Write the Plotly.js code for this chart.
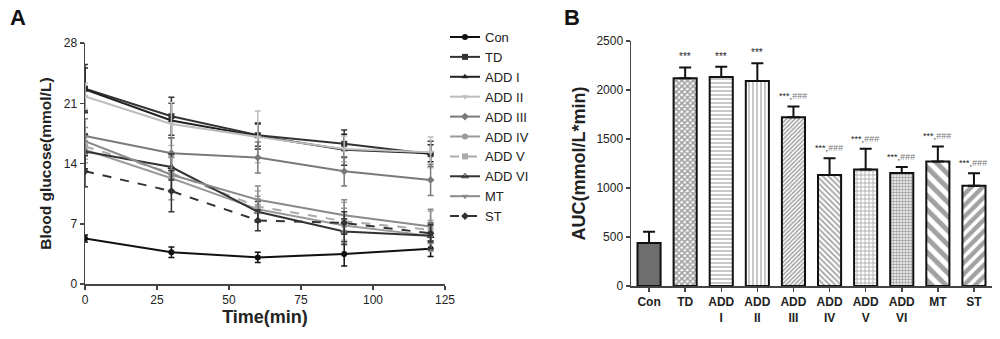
<!DOCTYPE html>
<html><head><meta charset="utf-8">
<script src="https://cdn.plot.ly/plotly-3.0.1.min.js"></script>
<style>html,body{margin:0;padding:0;background:#fff}#c{width:1000px;height:339px}</style>
</head><body><div id="c"></div>
<script>
// Panel A data
const times = [0, 30, 60, 90, 120];
const groups = ["Con","TD","ADD I","ADD II","ADD III","ADD IV","ADD V","ADD VI","MT","ST"];
const conY   = [5.3, 3.7, 3.1, 3.5, 4.1];
const tdY    = [22.7, 19.5, 17.3, 16.3, 15.1];
const add1Y  = [22.6, 19.0, 17.2, 15.6, 15.2];
const add2Y  = [21.8, 18.6, 17.1, 15.7, 15.3];
const add3Y  = [17.2, 15.2, 14.7, 13.1, 12.1];
const add4Y  = [15.6, 12.3, 8.7, 6.8, 5.6];
const add5Y  = [16.0, 12.9, 9.0, 7.3, 6.3];
const add6Y  = [15.4, 13.6, 8.4, 6.1, 5.6];
const mtY    = [16.6, 12.7, 9.8, 8.0, 6.7];
const stY    = [13.1, 10.8, 7.4, 7.1, 5.9];
const conE   = [0.4, 0.6, 0.6, 1.4, 0.9];
const tdE    = [2.8, 2.2, 1.3, 1.6, 1.5];
const add1E  = [2.5, 2.0, 1.5, 1.8, 1.0];
const add2E  = [1.5, 2.5, 3.0, 1.5, 1.8];
const add3E  = [2.0, 1.8, 1.8, 1.7, 1.8];
const add4E  = [1.5, 2.5, 1.5, 2.0, 1.8];
const add5E  = [1.5, 2.0, 1.8, 2.2, 2.2];
const add6E  = [2.0, 1.5, 1.2, 1.5, 1.5];
const mtE    = [1.6, 2.0, 1.6, 1.8, 2.0];
const stE    = [1.8, 2.4, 1.2, 1.3, 1.0];

// Panel B data
const barLabels = ["Con","TD","ADD<br>I","ADD<br>II","ADD<br>III","ADD<br>IV","ADD<br>V","ADD<br>VI","MT","ST"];
const aucVals = [440, 2120, 2134, 2092, 1722, 1134, 1190, 1155, 1272, 1023];
const aucErr  = [115, 110, 103, 180, 111, 170, 210, 59, 153, 128];
const sigText = ["", "***", "***", "***", "***,###", "***,###", "***,###", "***,###", "***,###", "***,###"];

const seriesY = [conY, tdY, add1Y, add2Y, add3Y, add4Y, add5Y, add6Y, mtY, stY];
const seriesE = [conE, tdE, add1E, add2E, add3E, add4E, add5E, add6E, mtE, stE];
const colors  = ["#111","#333","#222","#bdbdbd","#7a7a7a","#9a9a9a","#aaaaaa","#333","#8a8a8a","#333"];
const symbols = ["circle","square","triangle-up","triangle-down","diamond","circle","square","triangle-up-open","triangle-down","diamond"];
const dashes  = ["solid","solid","solid","solid","solid","solid","dash","solid","solid","dash"];

const traces = groups.map((g, i) => ({
  type: "scatter", mode: "lines+markers", name: g, x: times, y: seriesY[i],
  xaxis: "x", yaxis: "y",
  line: {color: colors[i], width: 2, dash: dashes[i]},
  marker: {color: colors[i], symbol: symbols[i], size: 6},
  error_y: {type: "data", array: seriesE[i], visible: true, color: colors[i], thickness: 1.5, width: 3}
}));

traces.push({
  type: "bar", x: barLabels, y: aucVals, xaxis: "x2", yaxis: "y2", showlegend: false,
  marker: {
    color: ["#6e6e6e","#fff","#fff","#fff","#fff","#fff","#fff","#fff","#fff","#fff"],
    line: {color: "#111", width: 2},
    pattern: {
      shape: ["", "x", "-", "|", "/", "\\", "+", ".", "\\", "/"],
      fgcolor: ["#444","#111","#333","#333","#444","#444","#333","#444","#000","#000"],
      bgcolor: ["#6e6e6e","#fff","#fff","#fff","#fff","#fff","#fff","#fff","#fff","#fff"],
      size: [4, 4, 4, 4, 3, 4, 4, 3, 10, 8],
      solidity: [0.2, 0.65, 0.3, 0.3, 0.5, 0.45, 0.35, 0.6, 0.5, 0.55],
      fillmode: "overlay"
    }
  },
  error_y: {type: "data", symmetric: false, array: aucErr, arrayminus: aucVals.map(() => 0), color: "#111", thickness: 2, width: 6}
});

const annotations = [
  {text: "<b>A</b>", x: 0.008, y: 0.99, xref: "paper", yref: "paper", xanchor: "left", yanchor: "top", showarrow: false, font: {size: 22, color: "#111"}},
  {text: "<b>B</b>", x: 0.562, y: 0.99, xref: "paper", yref: "paper", xanchor: "left", yanchor: "top", showarrow: false, font: {size: 22, color: "#111"}}
];
aucVals.forEach((v, i) => {
  if (!sigText[i]) return;
  const parts = sigText[i].split(",");
  const txt = parts.length > 1 ? parts[0] + ',<span style="color:#777"><i>' + parts[1] + '</i></span>' : parts[0];
  annotations.push({text: txt, x: barLabels[i], y: v + aucErr[i], xref: "x2", yref: "y2", yanchor: "bottom", yshift: 3,
    showarrow: false, font: {size: parts.length > 1 ? 9 : 10, color: "#222", family: "Arial"}});
});

const axFont = {family: "Arial", size: 12, color: "#222"};
const layout = {
  width: 1000, height: 339, margin: {l: 0, r: 0, t: 0, b: 0},
  paper_bgcolor: "#fff", plot_bgcolor: "#fff", font: {family: "Arial", color: "#222"},
  showlegend: true,
  legend: {x: 0.445, y: 0.935, xanchor: "left", yanchor: "top", font: {size: 13, family: "Arial", color: "#222"}, tracegroupgap: 0, bgcolor: "rgba(0,0,0,0)"},
  xaxis: {domain: [0.085, 0.445], range: [0, 125], tickvals: [0,25,50,75,100,125], ticks: "outside", ticklen: 4, tickwidth: 1.5,
    showline: true, linecolor: "#444", linewidth: 1.5, showgrid: false, zeroline: false, tickfont: axFont,
    tickprefix: "<b>", ticksuffix: "</b>",
    title: {text: "<b>Time(min)</b>", font: {size: 18, family: "Arial", color: "#222"}, standoff: 4}},
  yaxis: {domain: [0.162, 0.873], range: [0, 28], tickvals: [0,7,14,21,28], ticks: "outside", ticklen: 4, tickwidth: 1.5,
    showline: true, linecolor: "#444", linewidth: 1.5, showgrid: false, zeroline: false, tickfont: axFont,
    tickprefix: "<b>", ticksuffix: "</b>",
    title: {text: "<b>Blood glucose(mmol/L)</b>", font: {size: 15.5, family: "Arial", color: "#222"}, standoff: 8}},
  xaxis2: {domain: [0.631, 0.992], range: [-0.5, 9.5], anchor: "y2", ticks: "outside", ticklen: 4, tickwidth: 1.5,
    showline: true, linecolor: "#444", linewidth: 1.5, showgrid: false, zeroline: false, tickfont: axFont,
    tickprefix: "<b>", ticksuffix: "</b>"},
  yaxis2: {domain: [0.156, 0.879], range: [0, 2500], tickvals: [0,500,1000,1500,2000,2500], anchor: "x2", ticks: "outside", ticklen: 4, tickwidth: 1.5,
    showline: true, linecolor: "#444", linewidth: 1.5, showgrid: false, zeroline: false, tickfont: axFont,
    tickprefix: "<b>", ticksuffix: "</b>",
    title: {text: "<b>AUC(mmol/L*min)</b>", font: {size: 18, family: "Arial", color: "#222"}, standoff: 6}},
  bargap: 0.36,
  annotations: annotations
};
Plotly.newPlot("c", traces, layout, {displayModeBar: false, staticPlot: true});
</script>
</body></html>
